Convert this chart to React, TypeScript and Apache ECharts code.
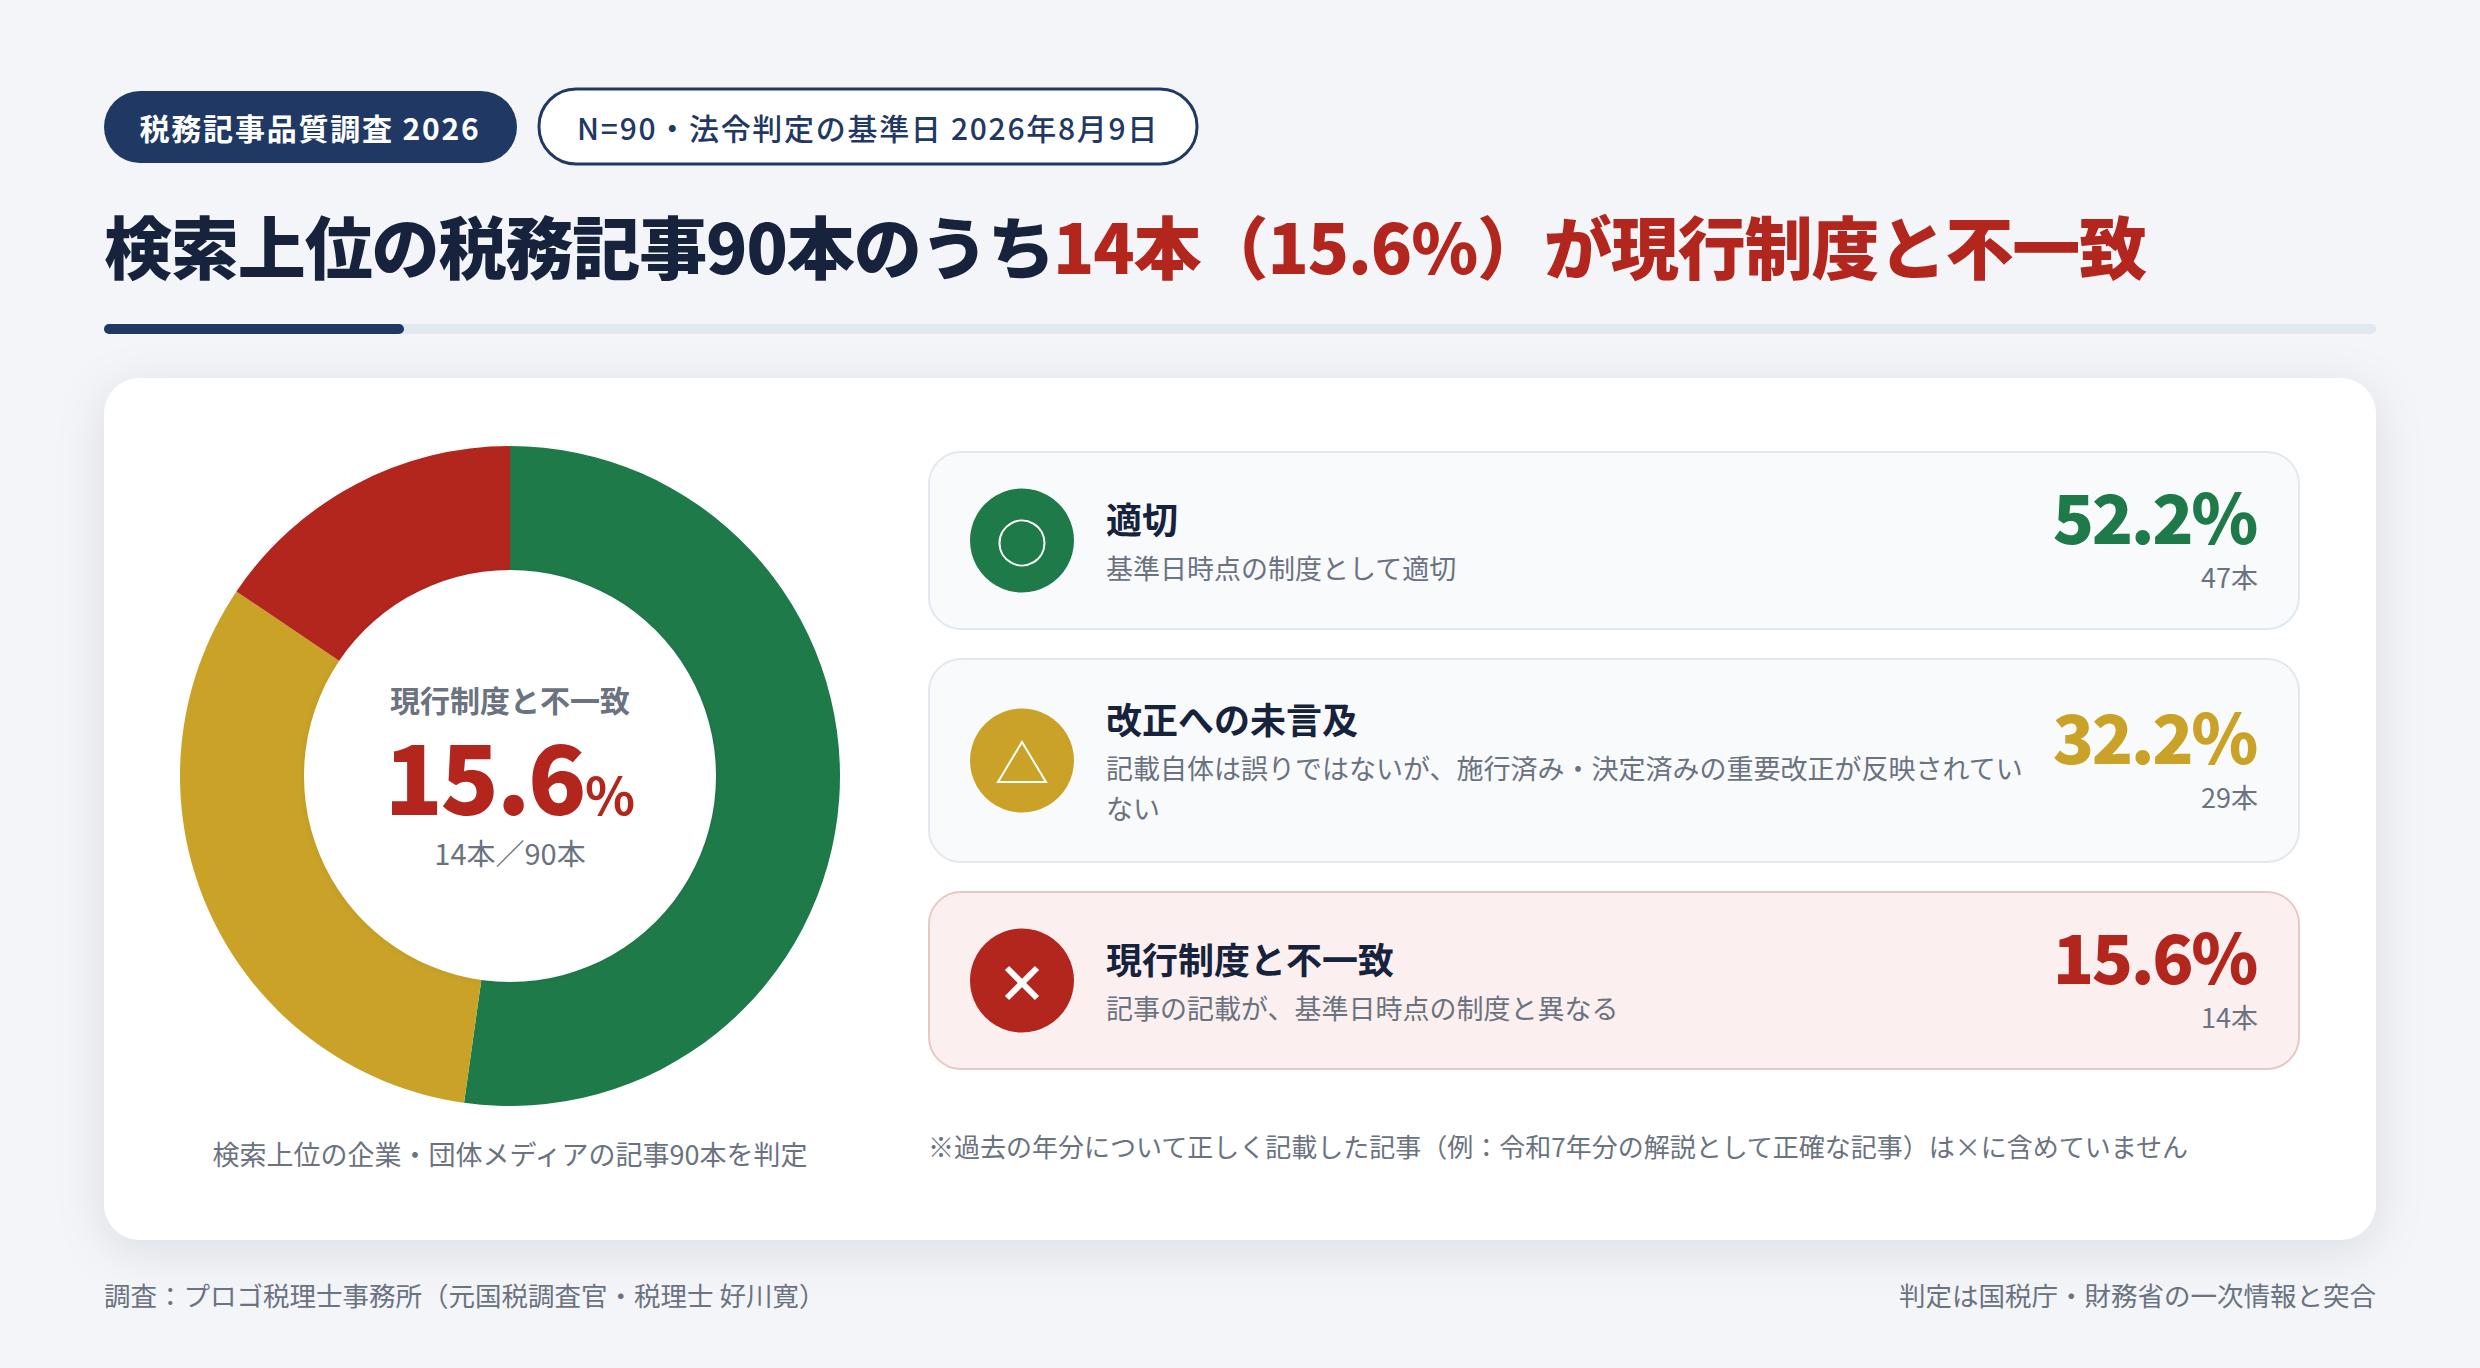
import React, { useEffect, useRef } from "react";
import * as echarts from "echarts";

const FONT = '"Noto Sans CJK JP", "Noto Sans", sans-serif';
const NAVY = "#1f3864";
const INK = "#17233c";
const GRAY = "#6b7280";
const GREEN = "#1f7a4a";
const GOLD = "#c9a227";
const RED = "#b3261e";

const categories = ["適切", "改正への未言及", "現行制度と不一致"];
const counts = [47, 29, 14];
const percents = ["52.2%", "32.2%", "15.6%"];
const countLabels = ["47本", "29本", "14本"];
const colors = [GREEN, GOLD, RED];
const descriptions = [
  ["基準日時点の制度として適切"],
  ["記載自体は誤りではないが、施行済み・決定済みの重要改正が反映されてい", "ない"],
  ["記事の記載が、基準日時点の制度と異なる"],
];
const badge1 = "税務記事品質調査 2026";
const badge2 = "N=90・法令判定の基準日 2026年8月9日";
const titleDark = "検索上位の税務記事90本のうち";
const titleRed = "14本（15.6%）が現行制度と不一致";
const centerValue = "15.6";

function T(x: number, y: number, text: string, size: number, fill: string, weight: number | string = 400, align = "left", z = 20) {
  return {
    type: "text", x, y, z, silent: true,
    style: { text, fontSize: size, fontWeight: weight, fontFamily: FONT, fill, textAlign: align, textVerticalAlign: "middle" },
  };
}

export default function App() {
  const ref = useRef<HTMLDivElement>(null);
  useEffect(() => {
    const chart = echarts.init(ref.current!, undefined, { renderer: "svg" });
    const cards = [
      { y: 452, h: 177, fill: "#f8fafc", stroke: "#e2e8f0" },
      { y: 659, h: 203, fill: "#f8fafc", stroke: "#e2e8f0" },
      { y: 892, h: 177, fill: "#fbf0ef", stroke: "#e8c8c4" },
    ];
    const g: any[] = [
      { type: "rect", z: 1, shape: { x: 104, y: 91, width: 413, height: 72, r: 36 }, style: { fill: NAVY } },
      T(310, 127, badge1, 30, "#ffffff", 700, "center"),
      { type: "rect", z: 1, shape: { x: 539, y: 89, width: 658, height: 75, r: 37 }, style: { fill: "#ffffff", stroke: NAVY, lineWidth: 3 } },
      T(868, 127, badge2, 30, NAVY, 500, "center"),
      T(104, 244, titleDark, 68, INK, 900),
      T(1053, 244, titleRed, 68, RED, 900),
      { type: "rect", z: 1, shape: { x: 104, y: 324, width: 2272, height: 10, r: 5 }, style: { fill: "#e2e8f0" } },
      { type: "rect", z: 2, shape: { x: 104, y: 324, width: 300, height: 10, r: 5 }, style: { fill: NAVY } },
      {
        type: "rect", z: 0, shape: { x: 104, y: 378, width: 2272, height: 862, r: 36 },
        style: { fill: "#ffffff", shadowBlur: 48, shadowOffsetY: 10, shadowColor: "rgba(23,35,60,0.10)" },
      },
      {
        type: "circle", z: 10, shape: { cx: 510, cy: 776, r: 206 },
        style: { fill: "#ffffff", shadowBlur: 6, shadowColor: "rgba(23,35,60,0.08)" },
      },
      T(510, 699, "現行制度と不一致", 30, GRAY, 700, "center"),
      T(584, 773, centerValue, 96, RED, 900, "right"),
      T(585, 792, "%", 52, RED, 700, "left"),
      T(510, 852, "14本／90本", 29, GRAY, 400, "center"),
      T(510, 1153, "検索上位の企業・団体メディアの記事90本を判定", 27, GRAY, 400, "center"),
      T(928, 1145, "※過去の年分について正しく記載した記事（例：令和7年分の解説として正確な記事）は×に含めていません", 26, GRAY),
      T(104, 1294, "調査：プロゴ税理士事務所（元国税調査官・税理士 好川寛）", 26.5, GRAY),
      T(2376, 1294, "判定は国税庁・財務省の一次情報と突合", 26.5, GRAY, 400, "right"),
    ];
    categories.forEach((name, i) => {
      const c = cards[i];
      const cy = c.y + c.h / 2;
      const desc = descriptions[i];
      const titleY = i === 1 ? 718 : c.y + 66;
      g.push({ type: "rect", z: 1, shape: { x: 929, y: c.y, width: 1370, height: c.h, r: 32 }, style: { fill: c.fill, stroke: c.stroke, lineWidth: 2 } });
      g.push({ type: "circle", z: 2, shape: { cx: 1022, cy, r: 52 }, style: { fill: colors[i] } });
      g.push(T(1106, titleY, name, 36, INK, 700));
      desc.forEach((d, j) => g.push(T(1106, titleY + 49 + j * 40, d, 27, GRAY)));
      g.push(T(2256, cy - 26, percents[i], 68, colors[i], 900, "right"));
      g.push(T(2258, cy + 36, countLabels[i], 27, GRAY, 400, "right"));
    });
    // icons
    g.push({ type: "circle", z: 3, shape: { cx: 1022, cy: 543, r: 22.5 }, style: { fill: "none", stroke: "#fff", lineWidth: 2 } });
    g.push({ type: "polygon", z: 3, shape: { points: [[1022, 742], [1046, 782], [998, 782]] }, style: { fill: "none", stroke: "#fff", lineWidth: 2 } });
    g.push({ type: "line", z: 3, shape: { x1: 1007, y1: 968, x2: 1037, y2: 998 }, style: { stroke: "#fff", lineWidth: 6 } });
    g.push({ type: "line", z: 3, shape: { x1: 1037, y1: 968, x2: 1007, y2: 998 }, style: { stroke: "#fff", lineWidth: 6 } });

    chart.setOption({
      animation: false,
      backgroundColor: "#f3f5f9",
      graphic: g,
      series: [
        {
          type: "pie",
          center: [510, 776],
          radius: [200, 330],
          startAngle: 90,
          clockwise: true,
          silent: true,
          z: 5,
          label: { show: false },
          labelLine: { show: false },
          data: categories.map((name, i) => ({ name, value: counts[i], itemStyle: { color: colors[i] } })),
        },
      ],
    });
    // Letter spacing, which ECharts text has no option for, set on the rendered SVG texts.
    const spacing: Record<string, string> = {
      [badge1]: "1.8px", [badge2]: "1.7px", [titleDark]: "-1.1px", [titleRed]: "-1.1px",
      [centerValue]: "-2.4px",
      [percents[0]]: "-2.4px", [percents[1]]: "-2.4px", [percents[2]]: "-2.4px",
    };
    ref.current!.querySelectorAll("text").forEach((el) => {
      const s = spacing[el.textContent || ""];
      if (s) (el as any).style.letterSpacing = s;
    });
    return () => chart.dispose();
  }, []);
  return <div ref={ref} style={{ position: "absolute", left: 0, top: 0, width: 2480, height: 1368 }} />;
}
